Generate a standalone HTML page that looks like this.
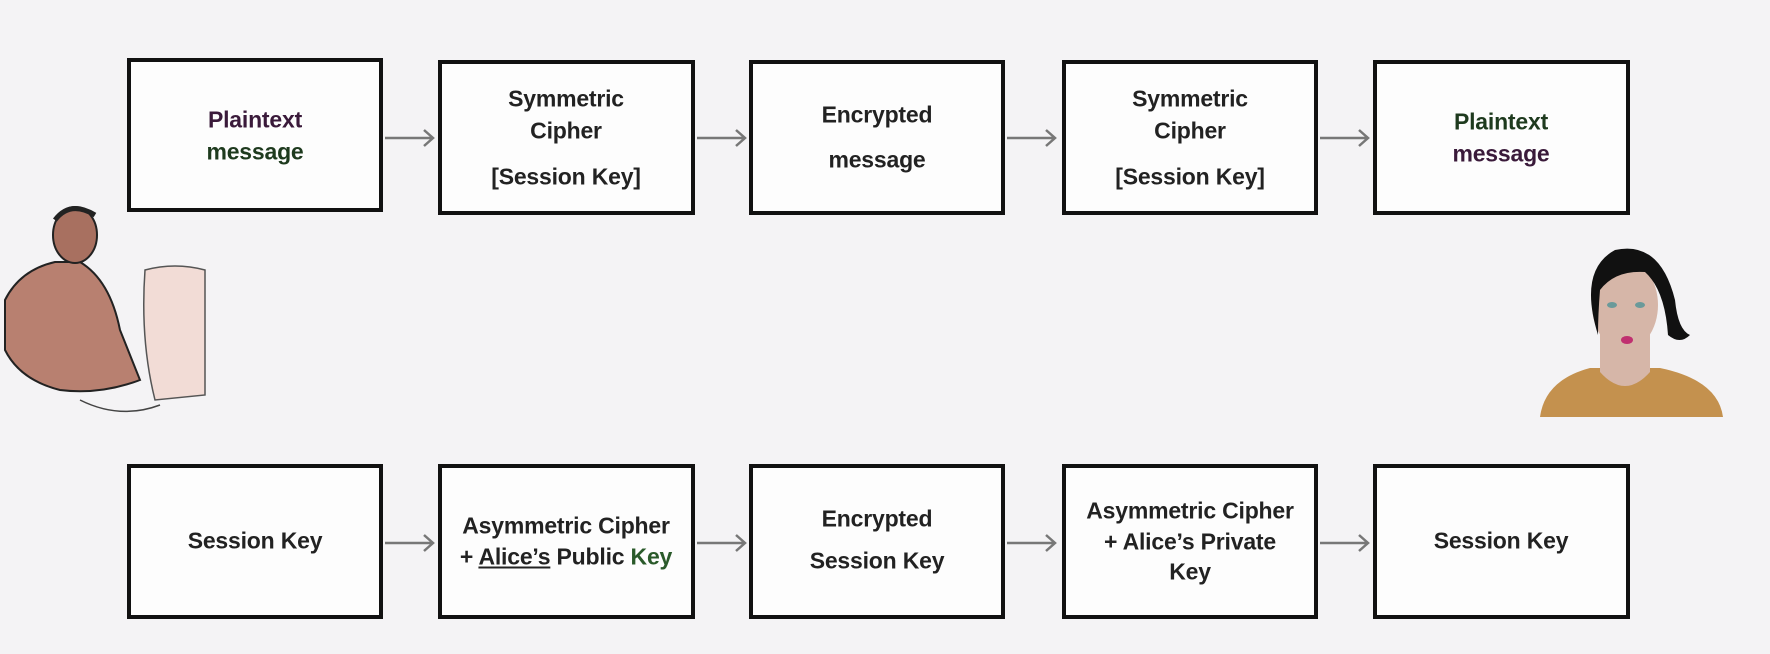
<!DOCTYPE html>
<html><head><meta charset="utf-8"><style>
body{margin:0;width:1770px;height:654px;background:#f4f3f5;position:relative;overflow:hidden;font-family:"Liberation Sans",sans-serif;}
.b{position:absolute;border:4px solid #111;background:#fdfdfd;box-sizing:border-box;}
.t{position:absolute;font-weight:bold;font-size:23px;color:#222;white-space:nowrap;transform:translate(-50%,-50%);letter-spacing:-0.2px}
svg{position:absolute;left:0;top:0}
</style></head><body>
<div class="b" style="left:127px;top:58px;width:256px;height:154px"></div>
<div class="b" style="left:438px;top:60px;width:257px;height:155px"></div>
<div class="b" style="left:749px;top:60px;width:256px;height:155px"></div>
<div class="b" style="left:1062px;top:60px;width:256px;height:155px"></div>
<div class="b" style="left:1373px;top:60px;width:257px;height:155px"></div>
<div class="b" style="left:127px;top:464px;width:256px;height:155px"></div>
<div class="b" style="left:438px;top:464px;width:257px;height:155px"></div>
<div class="b" style="left:749px;top:464px;width:256px;height:155px"></div>
<div class="b" style="left:1062px;top:464px;width:256px;height:155px"></div>
<div class="b" style="left:1373px;top:464px;width:257px;height:155px"></div>

<div class="t" style="left:255px;top:120px;color:#3a1a3a">Plaintext</div>
<div class="t" style="left:255px;top:152px;color:#1e3a1e">message</div>
<div class="t" style="left:566px;top:99px">Symmetric</div>
<div class="t" style="left:566px;top:131px">Cipher</div>
<div class="t" style="left:566px;top:177px">[Session Key]</div>
<div class="t" style="left:877px;top:115px">Encrypted</div>
<div class="t" style="left:877px;top:160px">message</div>
<div class="t" style="left:1190px;top:99px">Symmetric</div>
<div class="t" style="left:1190px;top:131px">Cipher</div>
<div class="t" style="left:1190px;top:177px">[Session Key]</div>
<div class="t" style="left:1501px;top:122px;color:#1e3a1e">Plaintext</div>
<div class="t" style="left:1501px;top:154px;color:#3a1a3a">message</div>

<div class="t" style="left:255px;top:541px">Session Key</div>
<div class="t" style="left:566px;top:526px">Asymmetric Cipher</div>
<div class="t" style="left:566px;top:557px">+ <u>Alice’s</u> Public <span style="color:#2a5a2a">Key</span></div>
<div class="t" style="left:877px;top:519px">Encrypted</div>
<div class="t" style="left:877px;top:561px">Session Key</div>
<div class="t" style="left:1190px;top:511px">Asymmetric Cipher</div>
<div class="t" style="left:1190px;top:542px">+ Alice’s Private</div>
<div class="t" style="left:1190px;top:572px">Key</div>
<div class="t" style="left:1501px;top:541px">Session Key</div>

<svg width="1770" height="654">
<g stroke="#777" stroke-width="2.5" fill="none">
<path d="M385 138H433M424 130L433 138L424 146"/>
<path d="M697 138H745M736 130L745 138L736 146"/>
<path d="M1007 138H1055M1046 130L1055 138L1046 146"/>
<path d="M1320 138H1368M1359 130L1368 138L1359 146"/>
<path d="M385 543H433M424 535L433 543L424 551"/>
<path d="M697 543H745M736 535L745 543L736 551"/>
<path d="M1007 543H1055M1046 535L1055 543L1046 551"/>
<path d="M1320 543H1368M1359 535L1368 543L1359 551"/>
</g>
<!-- man -->
<g>
<path d="M5 300 Q20 270 55 262 L80 262 Q110 280 120 330 L140 380 Q100 395 60 390 Q20 380 5 350Z" fill="#b88070" stroke="#222" stroke-width="2"/>
<ellipse cx="75" cy="235" rx="22" ry="28" fill="#a87060" stroke="#222" stroke-width="2"/>
<path d="M55 220 Q70 200 95 215" stroke="#222" stroke-width="5" fill="none"/>
<path d="M145 270 Q175 262 205 270 L205 395 L155 400 Q140 340 145 270Z" fill="#f2dcd6" stroke="#555" stroke-width="1.5"/>
<path d="M80 400 Q120 420 160 405" stroke="#444" stroke-width="1.5" fill="none"/>
</g>
<!-- woman -->
<g>
<path d="M1540 417 Q1545 380 1590 368 L1660 368 Q1718 380 1723 417Z" fill="#c4914e"/>
<path d="M1600 330 L1600 372 Q1625 400 1650 372 L1650 330Z" fill="#d6b6a8"/>
<ellipse cx="1625" cy="305" rx="33" ry="45" fill="#d6b6a8"/>
<path d="M1598 335 Q1578 270 1615 250 Q1660 240 1675 300 Q1678 330 1690 335 Q1680 345 1668 335 Q1665 290 1645 272 Q1615 270 1600 290 Q1598 315 1598 335Z" fill="#111"/>
<ellipse cx="1612" cy="305" rx="5" ry="3" fill="#6a9a9a"/>
<ellipse cx="1640" cy="305" rx="5" ry="3" fill="#6a9a9a"/>
<ellipse cx="1627" cy="340" rx="6" ry="4" fill="#c03070"/>
</g>
</svg>
</body></html>
